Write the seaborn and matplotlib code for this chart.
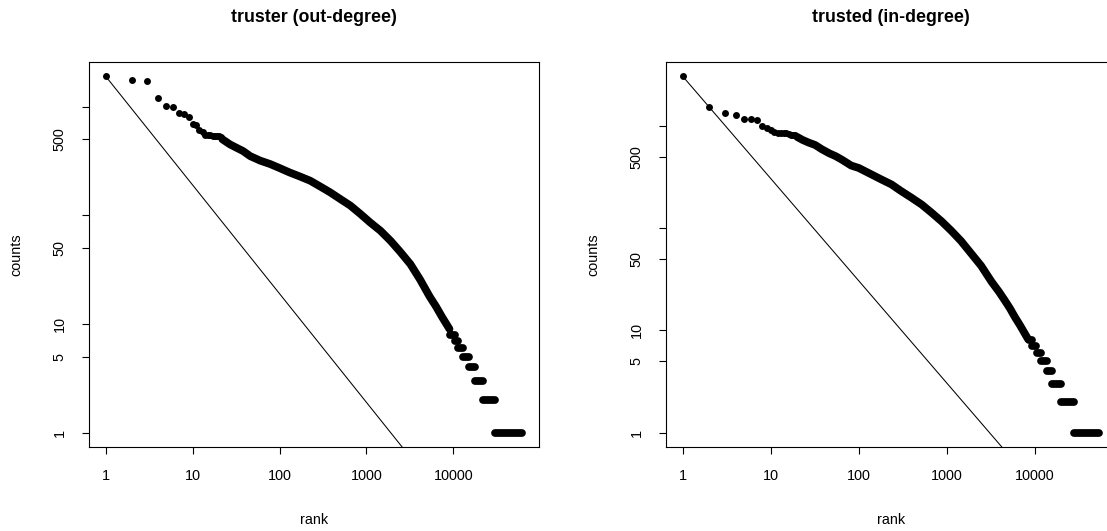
import numpy as np
import pandas as pd
import matplotlib
matplotlib.use("Agg")
import matplotlib.pyplot as plt
from matplotlib.ticker import FixedLocator, FixedFormatter, NullLocator
import seaborn as sns

# ---------------- data ----------------
titles = ["truster (out-degree)", "trusted (in-degree)"]
x_label = "rank"
y_label = "counts"
x_ticks = [1, 10, 100, 1000, 10000]
x_tick_labels = ["1", "10", "100", "1000", "10000"]
y_ticks = [1, 5, 10, 50, 100, 500, 1000]
y_tick_labels = ["1", "5", "10", "50", "", "500", ""]

# out-degree (truster)
out_head_rank = list(range(1, 22))
out_head_count = [1900, 1770, 1710, 1195, 1020, 1000, 875, 860, 805, 690, 680,
                  615, 582, 553, 545, 542, 540, 540, 538, 536, 530]
out_body_rank = [22, 27, 32, 38, 46, 60, 78, 100, 130, 170, 225, 290, 380, 500,
                 650, 850, 1100, 1450, 1900, 2450, 3200, 4150, 5300, 6300, 7400,
                 8300, 9000]
out_body_count = [500, 448, 418, 390, 350, 318, 296, 272, 248, 228, 208, 185, 163,
                  141, 123, 103, 86, 72, 58, 46, 35.5, 25.5, 18, 14.5, 11.6, 10, 9]
out_step_count = [8, 7, 6, 5, 4, 3, 2, 1]
out_step_first = [9100, 10400, 11400, 13000, 15200, 17700, 22000, 30000]
out_step_last = [10300, 11300, 12900, 15100, 17600, 21900, 29900, 62000]
out_ref_rank = [1, 10000]
out_ref_count = [1900, 0.19]

# in-degree (trusted)
in_head_rank = list(range(1, 20))
in_head_count = [3060, 1517, 1327, 1277, 1159, 1170, 1141, 1000, 948, 912, 870,
                 862, 858, 855, 850, 825, 818, 815, 810]
in_body_rank = [20, 23, 27, 32, 38, 46, 55, 65, 82, 100, 139, 180, 235, 300, 396,
                520, 670, 870, 1130, 1450, 1910, 2450, 3220, 3900, 4570, 5200,
                5940, 6800, 7710, 8400]
in_body_count = [780, 730, 687, 651, 592, 541, 505, 465, 410, 388, 336, 300, 268,
                 232, 199, 170, 142, 117, 94, 75, 56, 43, 30, 24, 19.6, 16.5, 13.5,
                 11.2, 9.3, 8.2]
in_step_count = [8, 7, 6, 5, 4, 3, 2, 1]
in_step_first = [8500, 9300, 10500, 11800, 13700, 15800, 20000, 28100]
in_step_last = [9200, 10400, 11700, 13600, 15700, 19900, 28000, 54000]
in_ref_rank = [1, 10000]
in_ref_count = [3060, 0.306]

panels = [
    dict(head_rank=out_head_rank, head_count=out_head_count,
         body_rank=out_body_rank, body_count=out_body_count,
         step_count=out_step_count, step_first=out_step_first, step_last=out_step_last,
         ref_rank=out_ref_rank, ref_count=out_ref_count),
    dict(head_rank=in_head_rank, head_count=in_head_count,
         body_rank=in_body_rank, body_count=in_body_count,
         step_count=in_step_count, step_first=in_step_first, step_last=in_step_last,
         ref_rank=in_ref_rank, ref_count=in_ref_count),
]

# ---------------- style ----------------
sns.set_style("ticks")
plt.rcParams["font.family"] = ["Liberation Sans", "DejaVu Sans"]

W, H = 1107, 531
fig = plt.figure(figsize=(W / 100, H / 100), dpi=100)
fig.patch.set_facecolor("white")

box_left_px = [89, 666]
box_w_px, box_top_px, box_bot_px = 450, 62, 447
DOT_PT = 5.0          # dot diameter in points (~7 px)
BAND_PT = 5.6         # thickness of the dense run of dots
TICK_FS = 10.4
TITLE_FS = 12.8


def r_lims(lo, hi):
    a, b = np.log10(lo), np.log10(hi)
    e = 0.04 * (b - a)
    return 10 ** (a - e), 10 ** (b + e)


for i, p in enumerate(panels):
    x0 = box_left_px[i]
    ax = fig.add_axes([x0 / W, (H - box_bot_px) / H, box_w_px / W,
                       (box_bot_px - box_top_px) / H])
    ax.set_xscale("log")
    ax.set_yscale("log")
    ax.set_facecolor("white")

    # dense part of the curve and the horizontal runs of equal counts
    rows = []
    for r, c in zip(p["body_rank"], p["body_count"]):
        rows.append(dict(rank=r, count=c, seg=0))
    for k, (c, r0, r1) in enumerate(zip(p["step_count"], p["step_first"], p["step_last"])):
        rows.append(dict(rank=r0, count=c, seg=k + 1))
        rows.append(dict(rank=r1, count=c, seg=k + 1))
    seg_df = pd.DataFrame(rows)
    sns.lineplot(data=seg_df, x="rank", y="count", units="seg", estimator=None,
                 color="black", linewidth=BAND_PT, solid_capstyle="round",
                 solid_joinstyle="round", legend=False, ax=ax)

    # separate dots at the top ranks
    sns.scatterplot(x=p["head_rank"], y=p["head_count"], s=DOT_PT ** 2,
                    color="black", linewidth=0, legend=False, ax=ax)

    # reference line (slope -1)
    sns.lineplot(x=p["ref_rank"], y=p["ref_count"], color="black",
                 linewidth=0.75, legend=False, ax=ax)

    max_rank = p["step_last"][-1]
    max_count = p["head_count"][0]
    ax.set_xlim(*r_lims(1, max_rank))
    ax.set_ylim(*r_lims(1, max_count))

    ax.xaxis.set_major_locator(FixedLocator(x_ticks))
    ax.xaxis.set_major_formatter(FixedFormatter(x_tick_labels))
    ax.yaxis.set_major_locator(FixedLocator(y_ticks))
    ax.yaxis.set_major_formatter(FixedFormatter(y_tick_labels))
    ax.xaxis.set_minor_locator(NullLocator())
    ax.yaxis.set_minor_locator(NullLocator())
    ax.tick_params(axis="both", which="major", direction="out", length=5.0,
                   width=0.8, color="black", labelsize=TICK_FS, labelcolor="black")
    ax.tick_params(axis="x", pad=11)
    ax.tick_params(axis="y", pad=11)
    for lab in ax.get_yticklabels():
        lab.set_rotation(90)
        lab.set_verticalalignment("center")
    for s in ax.spines.values():
        s.set_visible(True)
        s.set_color("black")
        s.set_linewidth(0.8)
    ax.set_xlabel("")
    ax.set_ylabel("")
    ax.grid(False)

    cx = x0 + box_w_px / 2
    fig.text(cx / W, 1 - 18 / H, titles[i], ha="center", va="center",
             fontsize=TITLE_FS, fontweight="bold", color="black")
    fig.text(cx / W, 1 - 520 / H, x_label, ha="center", va="center",
             fontsize=TICK_FS, color="black")
    fig.text((x0 - 73) / W, 1 - ((box_top_px + box_bot_px) / 2) / H, y_label,
             ha="center", va="center", rotation=90, fontsize=TICK_FS, color="black")

fig.savefig("out.png", dpi=100, facecolor="white")
